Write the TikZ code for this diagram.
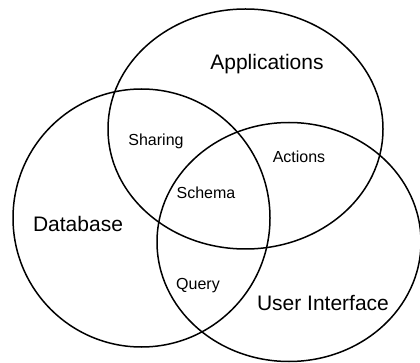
\documentclass[tikz,border=0pt]{standalone}
\usepackage{fontspec}
\setmainfont{Liberation Sans}
\usetikzlibrary{shapes.geometric}

\begin{document}
\begin{tikzpicture}[
      x=1pt, y=-1pt,
      every node/.style={inner sep=0pt,font=\fontsize{16}{18}\selectfont},
      set/.style={draw,ellipse,line width=1.5pt,outer sep=0pt},
      setname/.style={font=\fontsize{21}{24}\selectfont},
      ]
      \useasboundingbox (0,0) rectangle (420,363);
      % the three sets
      \node[set,minimum width=275pt,minimum height=240pt] (vennApps) at (245.5,129) {};
      \node[set,minimum width=257pt,minimum height=258pt] (vennData) at (141.5,218) {};
      \node[set,minimum width=264pt,minimum height=239pt] (vennUI)   at (289,242) {};
      % set names
      \node[setname] (vennAppsName) at (267,64)  {Applications};
      \node[setname] (vennDataName) at (78,224)  {Database};
      \node[setname] (vennUIName)   at (323,303) {User Interface};
      % overlaps
      \node (vennSharing) at (156,141) {Sharing};
      \node (vennActions) at (299,157) {Actions};
      \node (vennSchema)  at (206,193) {Schema};
      \node (vennQuery)   at (198,286) {Query};
    \end{tikzpicture}
\end{document}
